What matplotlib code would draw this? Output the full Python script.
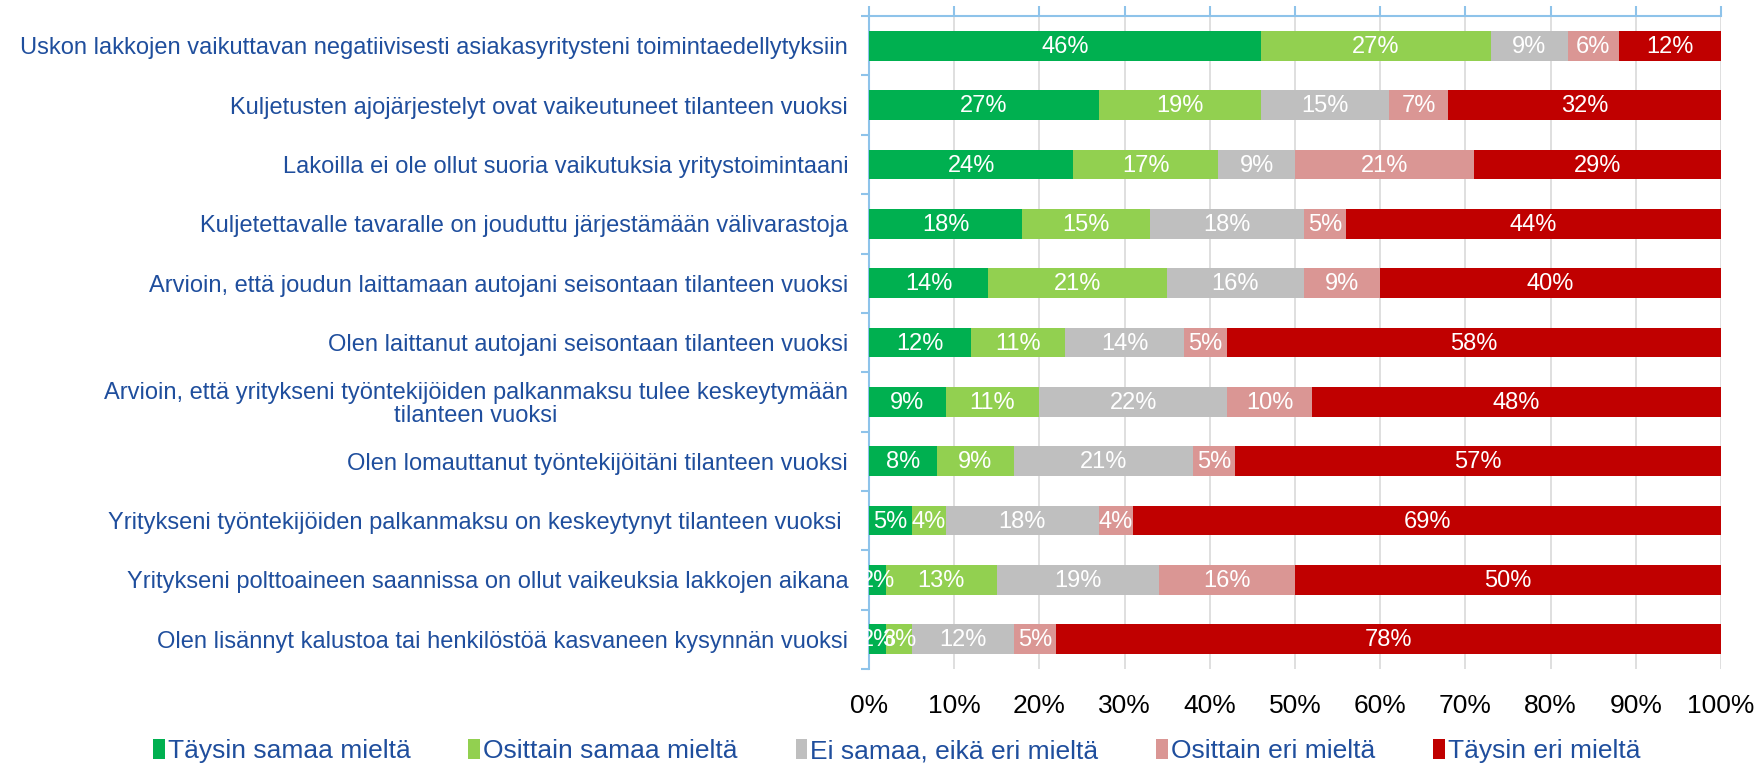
import matplotlib
matplotlib.use("Agg")
import matplotlib.pyplot as plt
import numpy as np

plt.rcParams['font.family'] = ['Liberation Sans', 'DejaVu Sans']

categories = [
    "Uskon lakkojen vaikuttavan negatiivisesti asiakasyritysteni toimintaedellytyksiin",
    "Kuljetusten ajojärjestelyt ovat vaikeutuneet tilanteen vuoksi",
    "Lakoilla ei ole ollut suoria vaikutuksia yritystoimintaani",
    "Kuljetettavalle tavaralle on jouduttu järjestämään välivarastoja",
    "Arvioin, että joudun laittamaan autojani seisontaan tilanteen vuoksi",
    "Olen laittanut autojani seisontaan tilanteen vuoksi",
    "Arvioin, että yritykseni työntekijöiden palkanmaksu tulee keskeytymään\ntilanteen vuoksi",
    "Olen lomauttanut työntekijöitäni tilanteen vuoksi",
    "Yritykseni työntekijöiden palkanmaksu on keskeytynyt tilanteen vuoksi ",
    "Yritykseni polttoaineen saannissa on ollut vaikeuksia lakkojen aikana",
    "Olen lisännyt kalustoa tai henkilöstöä kasvaneen kysynnän vuoksi",
]
series_names = ["Täysin samaa mieltä", "Osittain samaa mieltä", "Ei samaa, eikä eri mieltä",
                "Osittain eri mieltä", "Täysin eri mieltä"]
taysin_samaa = [46, 27, 24, 18, 14, 12, 9, 8, 5, 2, 2]
osittain_samaa = [27, 19, 17, 15, 21, 11, 11, 9, 4, 13, 3]
ei_samaa_eika_eri = [9, 15, 9, 18, 16, 14, 22, 21, 18, 19, 12]
osittain_eri = [6, 7, 21, 5, 9, 5, 10, 5, 4, 16, 5]
taysin_eri = [12, 32, 29, 44, 40, 58, 48, 57, 69, 50, 78]
series = [taysin_samaa, osittain_samaa, ei_samaa_eika_eri, osittain_eri, taysin_eri]
colors = ["#00B050", "#92D050", "#BFBFBF", "#DA9694", "#C00000"]
xticks = [0, 10, 20, 30, 40, 50, 60, 70, 80, 90, 100]

label_blue = "#1F4E9D"
axis_blue = "#8EC3EA"

fig = plt.figure(figsize=(17.58, 7.68), dpi=100)
ax = fig.add_axes([0.4943, 0.129, 0.979 - 0.4943, 0.979 - 0.129])

y = np.arange(len(categories))
left = np.zeros(len(categories))
for vals, name, col in zip(series, series_names, colors):
    vals = np.array(vals, dtype=float)
    bars = ax.barh(y, vals, left=left, height=0.5, color=col, label=name, zorder=3)
    for b, v in zip(bars, vals):
        ax.text(b.get_x() + b.get_width() / 2, b.get_y() + b.get_height() / 2 + 0.02,
                f"{int(v)}%", ha="center", va="center", color="white", fontsize=17, zorder=4)
    left += vals

ax.set_xlim(0, 100)
ax.set_ylim(len(categories) - 0.5, -0.5)
ax.set_xticks(xticks)
ax.set_xticklabels([f"{t}%" for t in xticks], fontsize=19, color="black")
ax.xaxis.grid(True, color="#D9D9D9", linewidth=1.2, zorder=0)
ax.tick_params(axis="x", which="both", top=True, bottom=False, labeltop=False, labelbottom=True,
               direction="out", length=7, color=axis_blue, width=1.5, pad=11)

ax.set_yticks(y)
ax.set_yticklabels(categories, fontsize=17, color=label_blue, ha="right",
                   multialignment="center", linespacing=1.05)
ax.tick_params(axis="y", which="major", length=0, pad=15)
ax.set_yticks(np.arange(len(categories) + 1) - 0.5, minor=True)
ax.tick_params(axis="y", which="minor", length=6, color=axis_blue, width=1.5, direction="out")

for s in ["right", "bottom"]:
    ax.spines[s].set_visible(False)
for s in ["left", "top"]:
    ax.spines[s].set_color(axis_blue)
    ax.spines[s].set_linewidth(1.5)

leg = fig.legend(loc="center", bbox_to_anchor=(0.51, 0.022), ncol=5, frameon=False,
                 fontsize=19, handlelength=0.45, handleheight=0.75, handletextpad=0.1,
                 columnspacing=2.2, labelcolor=label_blue, borderpad=0.1)

fig.savefig("out.png", dpi=100)
